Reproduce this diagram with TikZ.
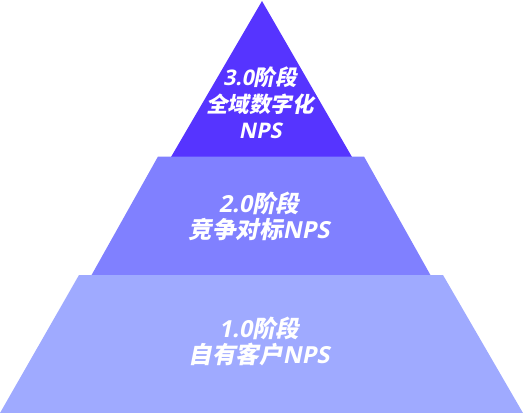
\documentclass[tikz,border=0pt]{standalone}
\usepackage{fontspec}
\newfontfamily\cjk[FakeSlant=0.2]{Noto Sans CJK SC}
\newfontfamily\lat[FakeSlant=0.2]{Open Sans}
\newcommand{\la}[1]{{\lat\bfseries #1}}
\definecolor{topc}{HTML}{5634FF}
\definecolor{midc}{HTML}{8080FF}
\definecolor{botc}{HTML}{9FAAFF}
\tikzset{
  layer/.style={draw=none},
  lbl/.style={text=white, align=center, font=\cjk\bfseries\fontsize{23.5}{26}\selectfont, inner sep=0pt},
  lbltop/.style={lbl, font=\cjk\bfseries\fontsize{21.5}{26.5}\selectfont}
}
\begin{document}
\begin{tikzpicture}[x=1pt,y=-1pt]
\useasboundingbox (0,0) rectangle (523,413);
% top triangle
\fill[layer,topc] (262,1) -- (352,157) -- (171,157) -- cycle;
% middle trapezoid
\fill[layer,midc] (158,156.5) -- (364,156.5) -- (431,276) -- (91,276) -- cycle;
% bottom trapezoid
\fill[layer,botc] (79,275) -- (443,275) -- (523,413) -- (0,413) -- cycle;
\node[lbltop] (t3) at (260,103) {\la{3.0}阶段\\全域数字化\\\la{NPS}};
\node[lbl] (t2) at (259,216) {\la{2.0}阶段\\竞争对标\la{NPS}};
\node[lbl] (t1) at (259,341) {\la{1.0}阶段\\自有客户\la{NPS}};
\end{tikzpicture}
\end{document}
